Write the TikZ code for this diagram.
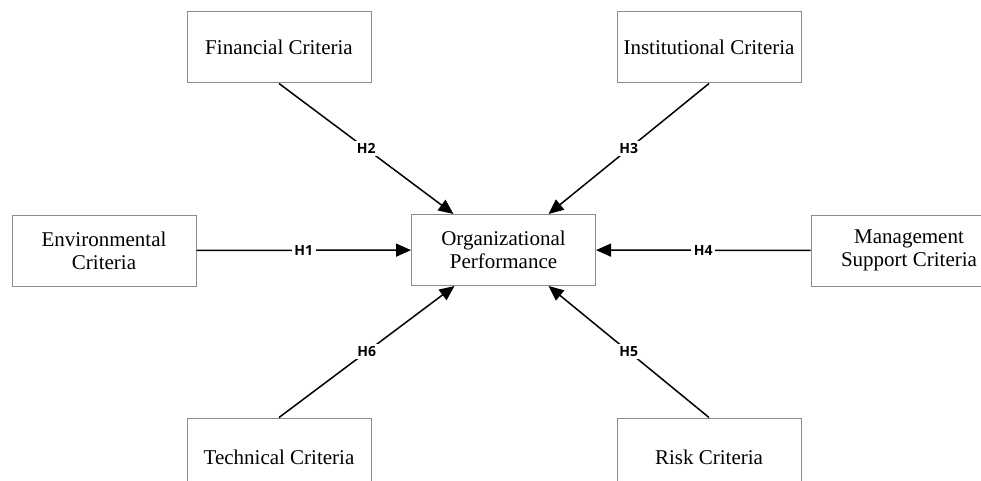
\documentclass[tikz,border=0pt]{standalone}
\usepackage{fontspec}
\setmainfont{Liberation Serif}
\newfontfamily\labelfont{Open Sans}
\usetikzlibrary{arrows.meta}
\begin{document}
\begin{tikzpicture}[x=1pt,y=-1pt,
  crit/.style={draw=black!45, line width=1pt, fill=white, minimum width=184pt,
    minimum height=71pt, inner sep=0pt, align=center,
    font=\fontsize{21}{23}\selectfont},
  link/.style={line width=1.5pt, -{Triangle[length=15pt,width=13pt]}},
  hyp/.style={fill=white, inner sep=2.5pt, font=\labelfont\bfseries\fontsize{14}{16}\selectfont}]
\useasboundingbox (0,0) rectangle (981,481);
\clip (0,0) rectangle (981,481);

% constructs
\node[crit] (perf) at (503.5,250) {Organizational\\Performance};
\node[crit] (fin)  at (279,47.5)  {Financial Criteria};
\node[crit] (inst) at (709,47.5)  {Institutional Criteria};
\node[crit] (env)  at (104,250.5) {Environmental\\Criteria};
\node[crit, minimum width=196pt] (mgmt) at (909,250.5) {Management\\Support Criteria};
\node[crit, minimum height=79pt] (tech) at (279,457.5) {Technical Criteria};
\node[crit, minimum height=79pt] (risk) at (709,457.5) {Risk Criteria};

% arrow targets on the performance box
\coordinate (pnw) at ([xshift=-50pt]perf.north);
\coordinate (pne) at ([xshift=45pt]perf.north);
\coordinate (psw) at ([xshift=-49pt]perf.south);
\coordinate (pse) at ([xshift=45pt]perf.south);

% hypotheses
\draw[link] (env)  -- node[hyp]{H1} (perf);
\draw[link] (fin.south)  -- node[hyp]{H2} (pnw);
\draw[link] (inst.south) -- node[hyp]{H3} (pne);
\draw[link] (mgmt) -- node[hyp]{H4} (perf);
\draw[link] (risk.north) -- node[hyp]{H5} (pse);
\draw[link] (tech.north) -- node[hyp]{H6} (psw);
\end{tikzpicture}
\end{document}
